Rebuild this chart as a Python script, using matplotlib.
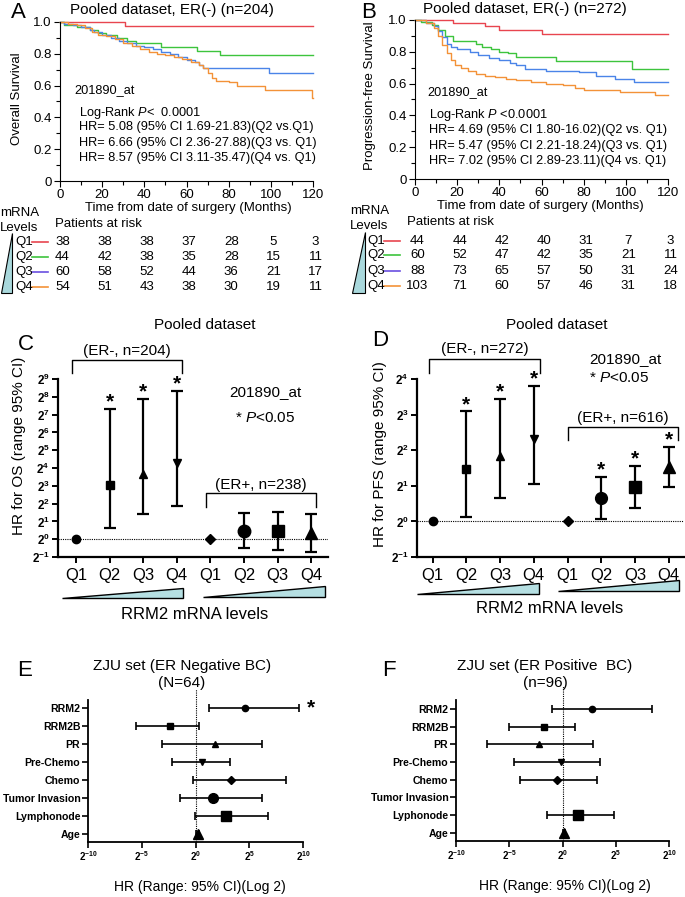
import numpy as np
import matplotlib
matplotlib.use('Agg')
import matplotlib.pyplot as plt
import matplotlib.transforms as mtransforms
from matplotlib.patches import Polygon
from matplotlib.lines import Line2D

plt.rcParams['font.family'] = ['Liberation Sans', 'DejaVu Sans']
plt.rcParams['mathtext.fontset'] = 'custom'
plt.rcParams['mathtext.rm'] = 'Liberation Sans'
plt.rcParams['mathtext.it'] = 'Liberation Sans:italic'
plt.rcParams['mathtext.bf'] = 'Liberation Sans:bold'

# ---- data: panel A (overall survival, ER-) ----
os_q1_t = [0, 31, 120]
os_q1_s = [1.0, 0.975, 0.975]
os_q2_t = [0, 2, 8, 14, 18, 22, 27, 32, 36, 48, 65, 76, 120]
os_q2_s = [1.0, 0.98, 0.97, 0.95, 0.93, 0.92, 0.90, 0.88, 0.865, 0.84, 0.82, 0.79, 0.79]
os_q3_t = [0, 2, 6, 10, 14, 16, 20, 24, 28, 32, 36, 40, 44, 48, 52, 56, 60, 64, 66, 68, 99, 120]
os_q3_s = [1.0, 0.99, 0.98, 0.97, 0.95, 0.94, 0.92, 0.90, 0.88, 0.87, 0.85, 0.84, 0.83, 0.81,
           0.80, 0.78, 0.76, 0.75, 0.73, 0.71, 0.68, 0.68]
os_q4_t = [0, 4, 8, 12, 15, 18, 22, 26, 30, 34, 38, 42, 46, 50, 54, 58, 62, 66, 68, 70, 72,
           74, 80, 84, 97, 119.6, 120]
os_q4_s = [1.0, 0.99, 0.98, 0.96, 0.94, 0.92, 0.91, 0.89, 0.87, 0.85, 0.83, 0.81, 0.80, 0.79,
           0.78, 0.77, 0.75, 0.73, 0.71, 0.68, 0.65, 0.63, 0.62, 0.60, 0.57, 0.52, 0.52]

# ---- data: panel B (progression-free survival, ER-) ----
pfs_q1_t = [0, 18, 33, 40, 60, 120]
pfs_q1_s = [1.0, 0.98, 0.96, 0.935, 0.91, 0.91]
pfs_q2_t = [0, 3, 8, 11, 14, 18, 24, 29, 32, 36, 40, 44, 48, 58, 67, 87, 103, 120]
pfs_q2_s = [1.0, 0.99, 0.97, 0.94, 0.90, 0.87, 0.87, 0.85, 0.83, 0.82, 0.80, 0.79, 0.77,
            0.77, 0.745, 0.74, 0.69, 0.69]
pfs_q3_t = [0, 5, 9, 11, 13, 15, 17, 20, 26, 30, 35, 40, 45, 48, 52, 62, 70, 78, 86, 95, 104, 120]
pfs_q3_s = [1.0, 0.98, 0.96, 0.93, 0.89, 0.85, 0.83, 0.82, 0.80, 0.78, 0.76, 0.75, 0.73,
            0.72, 0.69, 0.68, 0.68, 0.67, 0.65, 0.63, 0.61, 0.61]
pfs_q4_t = [0, 5, 9, 11, 13, 15, 17, 19, 22, 25, 29, 33, 38, 43, 48, 55, 62, 70, 76, 80,
            97, 114, 120]
pfs_q4_s = [1.0, 0.98, 0.95, 0.90, 0.84, 0.79, 0.75, 0.72, 0.70, 0.68, 0.66, 0.65, 0.64,
            0.63, 0.62, 0.61, 0.60, 0.59, 0.57, 0.56, 0.55, 0.53, 0.53]

risk_times = [0, 20, 40, 60, 80, 100, 120]
os_risk = [[38, 38, 38, 37, 28, 5, 3],
           [44, 42, 38, 35, 28, 15, 11],
           [60, 58, 52, 44, 36, 21, 17],
           [54, 51, 43, 38, 30, 19, 11]]
pfs_risk = [[44, 44, 42, 40, 31, 7, 3],
            [60, 52, 47, 42, 35, 21, 11],
            [88, 73, 65, 57, 50, 31, 24],
            [103, 71, 60, 57, 46, 31, 18]]
quartiles = ['Q1', 'Q2', 'Q3', 'Q4']

# ---- data: panels C / D (log2 HR, 95% CI) ----
hr_cats = ['Q1', 'Q2', 'Q3', 'Q4', 'Q1', 'Q2', 'Q3', 'Q4']
os_hr = [0, 3.04, 3.66, 4.26, 0, 0.48, 0.48, 0.33]
os_lo = [0, 0.65, 1.42, 1.88, 0, -0.48, -0.6, -0.7]
os_hi = [0, 7.3, 7.88, 8.33, 0, 1.45, 1.53, 1.40]
os_sig = [False, True, True, True, False, False, False, False]
pfs_hr = [0, 1.48, 1.85, 2.31, 0, 0.66, 0.98, 1.52]
pfs_lo = [0, 0.12, 0.66, 1.06, 0, 0.08, 0.39, 0.98]
pfs_hi = [0, 3.09, 3.44, 3.81, 0, 1.25, 1.56, 2.10]
pfs_sig = [False, True, True, True, False, True, True, True]

# ---- data: panels E / F (log2 HR, 95% CI) ----
neg_vars = ['RRM2', 'RRM2B', 'PR', 'Pre-Chemo', 'Chemo', 'Tumor Invasion', 'Lymphonode', 'Age']
neg_hr = [4.56, -2.33, 1.86, 0.56, 3.32, 1.61, 2.82, 0.22]
neg_lo = [1.24, -5.58, -3.1, -2.17, -0.22, -1.4, -0.06, 0.08]
neg_hi = [9.67, 0.37, 6.14, 3.19, 8.43, 6.14, 6.73, 0.36]
pos_vars = ['RRM2', 'RRM2B', 'PR', 'Pre-Chemo', 'Chemo', 'Tumor Invasion', 'Lyphonode', 'Age']
pos_hr = [2.76, -1.76, -2.2, -0.1, -0.56, np.nan, 1.5, 0.1]
pos_lo = [-1.03, -5.02, -7.12, -4.6, -4.01, np.nan, -1.44, 0.0]
pos_hi = [8.4, 1.16, 2.89, 3.51, 3.23, np.nan, 4.8, 0.2]

W, H = 685, 897
fig = plt.figure(figsize=(W / 100, H / 100), dpi=100)


def rect(l, t, r, b):
    return [l / W, 1 - b / H, (r - l) / W, (b - t) / H]


def ftxt(x, y, s, **kw):
    kw.setdefault('va', 'center')
    fig.text(x / W, 1 - y / H, s, **kw)


def fline(xs, ys, **kw):
    fig.add_artist(Line2D([x / W for x in xs], [1 - y / H for y in ys], **kw))


def fpoly(pts, **kw):
    fig.add_artist(Polygon([(x / W, 1 - y / H) for x, y in pts], closed=True,
                           transform=fig.transFigure, **kw))


colors = ['#e8454f', '#3dc43d', '#4a84e8', '#f39238']
tbl_colors = ['#e8454f', '#3dc43d', '#6a4fe0', '#f39238']


def km_panel(box, curves, ylabel, ylab_xy, risk, risk_y, x0, q_x, tbl_head):
    ax = fig.add_axes(rect(*box))
    for (t, s), c in zip(curves, colors):
        ax.step(t, s, where='post', color=c, lw=1.0, clip_on=False)
    ax.set_xlim(0, 120)
    ax.set_ylim(0, 1.0)
    ax.spines[['top', 'right']].set_visible(False)
    ax.set_xticks(range(0, 121, 20))
    ax.set_xticks(range(0, 121, 10), minor=True)
    ax.set_yticks([0, 0.2, 0.4, 0.6, 0.8, 1.0])
    ax.set_yticklabels(['0', '0.2', '0.4', '0.6', '0.8', '1.0'])
    ax.set_yticks(np.arange(0, 1.01, 0.1), minor=True)
    ax.tick_params(labelsize=9.5, length=4, width=0.8, pad=2)
    ax.tick_params(which='minor', length=3, width=0.8)
    for sp in ax.spines.values():
        sp.set_linewidth(0.8)
    ftxt(ylab_xy[0], ylab_xy[1], ylabel, rotation=90, ha='center', fontsize=9.5)
    trans = mtransforms.blended_transform_factory(ax.transData, fig.transFigure)
    for row, ry in zip(risk, risk_y):
        for tm, n in zip(risk_times, row):
            ax.text(tm + 1.2, 1 - ry / H, str(n), transform=trans, ha='center', va='center',
                    fontsize=9.5)
    for q, ry, c in zip(quartiles, risk_y, tbl_colors):
        ftxt(q_x, ry, q, ha='left', fontsize=9.5)
        fline([q_x + 17, q_x + 33], [ry, ry], color=c, lw=1.2)
    ftxt(x0, tbl_head[0], 'mRNA', ha='left', fontsize=9.5)
    ftxt(x0, tbl_head[1], 'Levels', ha='left', fontsize=9.5)
    return ax


# ---------------- Panel A ----------------
axA = km_panel((60, 22, 313, 181),
               [(os_q1_t, os_q1_s), (os_q2_t, os_q2_s), (os_q3_t, os_q3_s), (os_q4_t, os_q4_s)],
               'Overall Survival', (17, 99), os_risk, [242, 257, 272, 287], 0, 15, (213, 228))
ftxt(11, 12, 'A', ha='left', fontsize=16)
ftxt(172, 10, 'Pooled dataset, ER(-) (n=204)', ha='center', fontsize=11)
ftxt(74, 90, '201890_at', ha='left', fontsize=9.2)
ftxt(79, 113, 'Log-Rank $\\it{P}$<  0.0001', ha='left', fontsize=9.2)
ftxt(79, 127, 'HR= 5.08 (95% CI 1.69-21.83)(Q2 vs.Q1)', ha='left', fontsize=9.2)
ftxt(79, 143, 'HR= 6.66 (95% CI 2.36-27.88)(Q3 vs. Q1)', ha='left', fontsize=9.2)
ftxt(79, 158, 'HR= 8.57 (95% CI 3.11-35.47)(Q4 vs. Q1)', ha='left', fontsize=9.2)
ftxt(188, 208, 'Time from date of surgery (Months)', ha='center', fontsize=9.5)
ftxt(55, 224, 'Patients at risk', ha='left', fontsize=9.5)
fpoly([(1, 293), (12, 293), (12, 233)], facecolor='#a9d8dc', edgecolor='k', lw=0.8)

# ---------------- Panel B ----------------
axB = km_panel((415, 20, 668, 179),
               [(pfs_q1_t, pfs_q1_s), (pfs_q2_t, pfs_q2_s), (pfs_q3_t, pfs_q3_s),
                (pfs_q4_t, pfs_q4_s)],
               'Progression-free Survival', (370, 96), pfs_risk, [241, 255, 271, 286], 350, 367,
               (211, 226))
ftxt(361, 12, 'B', ha='left', fontsize=16)
ftxt(525, 9, 'Pooled dataset, ER(-) (n=272)', ha='center', fontsize=11)
ftxt(427, 92, '201890_at', ha='left', fontsize=9.2)
ftxt(429, 115, 'Log-Rank $\\it{P}$ <0.0001', ha='left', fontsize=9.2)
ftxt(429, 130, 'HR= 4.69 (95% CI 1.80-16.02)(Q2 vs. Q1)', ha='left', fontsize=9.2)
ftxt(429, 146, 'HR= 5.47 (95% CI 2.21-18.24)(Q3 vs. Q1)', ha='left', fontsize=9.2)
ftxt(429, 161, 'HR= 7.02 (95% CI 2.89-23.11)(Q4 vs. Q1)', ha='left', fontsize=9.2)
ftxt(540, 206, 'Time from date of surgery (Months)', ha='center', fontsize=9.5)
ftxt(407, 222, 'Patients at risk', ha='left', fontsize=9.5)
fpoly([(352, 293), (365, 293), (365, 232)], facecolor='#a9d8dc', edgecolor='k', lw=0.8)


# ---------------- Panels C / D ----------------
def hr_panel(box, xlim, ylim, hr, lo, hi, sig, msizes):
    ax = fig.add_axes(rect(*box))
    pos = np.arange(1, len(hr) + 1)
    markers = ['o', 's', '^', 'v', 'D', 'o', 's', '^']
    for i in range(len(hr)):
        if hi[i] != lo[i]:
            ax.errorbar(pos[i], hr[i], yerr=[[hr[i] - lo[i]], [hi[i] - hr[i]]], fmt='none',
                        ecolor='k', elinewidth=1.6, capsize=4, capthick=1.6, clip_on=False)
        ax.plot(pos[i], hr[i], marker=markers[i], color='k', ms=msizes[i], ls='none',
                clip_on=False, zorder=3)
        if sig[i]:
            ax.annotate('*', (pos[i], hi[i]), xytext=(0, 5), textcoords='offset points',
                        ha='center', va='center', fontsize=15, fontweight='bold')
    ax.axhline(0, color='k', ls=(0, (1, 1)), lw=0.8)
    ax.set_xlim(*xlim)
    ax.set_ylim(*ylim)
    ax.set_xticks(pos)
    ax.set_xticklabels(hr_cats, fontsize=12)
    yt = np.arange(ylim[0], ylim[1] + 1)
    ax.set_yticks(yt)
    ax.set_yticklabels(['$\\mathbf{2^{%d}}$' % v for v in yt], fontsize=8.5)
    ax.spines[['top', 'right']].set_visible(False)
    for sp in ax.spines.values():
        sp.set_linewidth(1.6)
    ax.tick_params(length=4, width=1.4, pad=2)
    ax.tick_params(axis='x', pad=4)
    return ax


def bracket(ax, x1, x2, ytop, ybot, label, ytext):
    ax.plot([x1, x1, x2, x2], [ybot, ytop, ytop, ybot], color='k', lw=1.0, clip_on=False)
    ax.text((x1 + x2) / 2, ytext, label, ha='center', va='center', fontsize=11)


axC = hr_panel((58, 379, 328, 557), (0.464, 8.5), (-1, 9), os_hr, os_lo, os_hi, os_sig,
               [6, 6, 6, 6, 5.5, 9, 9, 9])
bracket(axC, 0.88, 4.15, 10.07, 9.34, '(ER-, n=204)', 10.55)
bracket(axC, 4.87, 8.14, 2.6, 1.81, '(ER+, n=238)', 3.07)
ftxt(18, 345, 'C', ha='left', fontsize=16)
ftxt(205, 325, 'Pooled dataset', ha='center', fontsize=11)
ftxt(265, 392, '201890_at', ha='center', fontsize=11)
ftxt(265, 418, '* $\\it{P}$<0.05', ha='center', fontsize=11)
ftxt(19, 446, 'HR for OS (range 95% CI)', rotation=90, ha='center', fontsize=11)
fpoly([(62, 598), (183, 598), (183, 588)], facecolor='#b5dfe2', edgecolor='k', lw=1)
fpoly([(203, 597), (325, 597), (325, 586)], facecolor='#b5dfe2', edgecolor='k', lw=1)
ftxt(195, 614, 'RRM2 mRNA levels', ha='center', fontsize=12)

axD = hr_panel((417, 379, 684, 557), (0.534, 8.457), (-1, 4), pfs_hr, pfs_lo, pfs_hi, pfs_sig,
               [6, 6, 6, 6, 5.5, 8.5, 8.5, 8.5])
bracket(axD, 0.89, 4.18, 4.57, 4.18, '(ER-, n=272)', 4.83)
bracket(axD, 5.01, 8.28, 2.66, 2.30, '(ER+, n=616)', 2.9)
ftxt(380, 340, 'D', ha='center', fontsize=16)
ftxt(557, 325, 'Pooled dataset', ha='center', fontsize=11)
ftxt(589, 359, '201890_at', ha='left', fontsize=11)
ftxt(589, 378, '* $\\it{P}$<0.05', ha='left', fontsize=11)
ftxt(380, 454, 'HR for PFS (range 95% CI)', rotation=90, ha='center', fontsize=11)
fpoly([(417, 594), (539, 594), (539, 583)], facecolor='#b5dfe2', edgecolor='k', lw=1)
fpoly([(558, 591), (679, 591), (679, 580)], facecolor='#b5dfe2', edgecolor='k', lw=1)
ftxt(550, 608, 'RRM2 mRNA levels', ha='center', fontsize=12)


# ---------------- Panels E / F ----------------
def forest(box, ylim, names, hr, lo, hi, dot_top):
    ax = fig.add_axes(rect(*box))
    rows = np.arange(len(names), 0, -1)
    markers = ['o', 's', '^', 'v', 'D', 'o', 's', '^']
    ms = [4.5, 5, 4.5, 4.5, 4.5, 7, 7, 7]
    for i in range(len(names)):
        if np.isnan(hr[i]):
            continue
        ax.errorbar(hr[i], rows[i], xerr=[[hr[i] - lo[i]], [hi[i] - hr[i]]], fmt='none',
                    ecolor='k', elinewidth=1.2, capsize=3, capthick=1.2)
        ax.plot(hr[i], rows[i], marker=markers[i], color='k', ms=ms[i], ls='none', zorder=3)
    ax.plot([0, 0], [ylim[0], dot_top], color='k', ls=(0, (1, 1)), lw=0.8, clip_on=False)
    ax.set_xlim(-10, 10)
    ax.set_ylim(*ylim)
    ax.set_yticks(rows)
    ax.set_yticklabels(names, fontsize=7.6, fontweight='bold')
    ax.set_xticks([-10, -5, 0, 5, 10])
    ax.set_xticklabels(['$\\mathbf{2^{%d}}$' % v for v in [-10, -5, 0, 5, 10]], fontsize=7)
    ax.spines[['top', 'right']].set_visible(False)
    for sp in ax.spines.values():
        sp.set_linewidth(1.3)
    ax.tick_params(length=4, width=1.2, pad=1.5)
    return ax


axE = forest((88, 700, 303, 842), (0.54, 8.45), neg_vars, neg_hr, neg_lo, neg_hi, 9.05)
axE.text(10.7, 8, '*', ha='center', va='center', fontsize=15, fontweight='bold', clip_on=False)
ftxt(25, 670, 'E', ha='center', fontsize=16)
ftxt(182, 666, 'ZJU set (ER Negative BC)', ha='center', fontsize=11)
ftxt(182, 683, '(N=64)', ha='center', fontsize=11)
ftxt(200, 887, 'HR (Range: 95% CI)(Log 2)', ha='center', fontsize=10)

axF = forest((456, 700, 669, 841), (0.53, 8.51), pos_vars, pos_hr, pos_lo, pos_hi, 9.3)
ftxt(389, 670, 'F', ha='center', fontsize=16)
ftxt(545, 666, 'ZJU set (ER Positive  BC)', ha='center', fontsize=11)
ftxt(545, 683, '(n=96)', ha='center', fontsize=11)
ftxt(565, 886, 'HR (Range: 95% CI)(Log 2)', ha='center', fontsize=10)

fig.savefig('out.png', dpi=100)
